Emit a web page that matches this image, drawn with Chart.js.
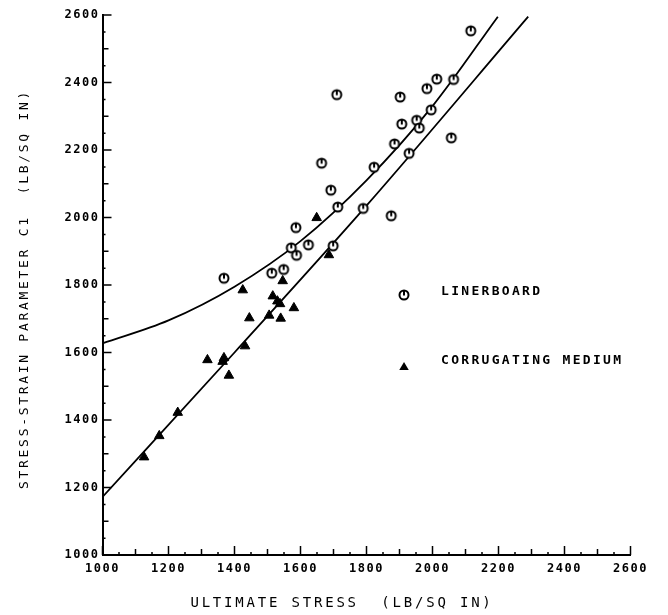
<!DOCTYPE html>
<html>
<head>
<meta charset="utf-8">
<script src="https://cdn.jsdelivr.net/npm/chart.js@4.4.0/dist/chart.umd.min.js"></script>
<style>
  html, body { margin: 0; padding: 0; background: #fff; }
</style>
</head>
<body>
<canvas id="chart" width="668" height="615"></canvas>
<script>
// dados
const linerStress = [1368, 1513, 1549, 1572, 1588, 1586, 1624, 1699, 1664, 1692, 1713, 1790, 1823, 1710,
  1875, 1885, 1902, 1907, 1929, 1952, 1960, 1996, 1983, 2013, 2064, 2057, 2116];
const linerC1 = [1820, 1835, 1846, 1910, 1888, 1970, 1919, 1916, 2161, 2081, 2031, 2027, 2149, 2364,
  2005, 2218, 2357, 2277, 2190, 2288, 2265, 2319, 2382, 2410, 2409, 2236, 2553];

const medStress = [1126, 1172, 1228, 1318, 1368, 1364, 1383, 1432, 1445, 1425, 1505, 1540, 1516, 1538,
  1530, 1580, 1546, 1649, 1686];
const medC1 = [1290, 1353, 1422, 1578, 1584, 1573, 1532, 1619, 1702, 1785, 1710, 1701, 1767, 1744,
  1752, 1732, 1812, 1999, 1889];

// curvas ajustadas (pontos lidos ao longo das linhas)
const linerFitX = [1000, 1200, 1400, 1600, 1800, 2000, 2198];
const linerFitY = [1627, 1695, 1795, 1930, 2110, 2330, 2595];
const medFitX = [1000, 1400, 1800, 2290];
const medFitY = [1172, 1600, 2035, 2595];

const xTicks = [1000, 1200, 1400, 1600, 1800, 2000, 2200, 2400, 2600];
const yTicks = [1000, 1200, 1400, 1600, 1800, 2000, 2200, 2400, 2600];

const xTitle = 'ULTIMATE STRESS  (LB/SQ IN)';
const yTitle = 'STRESS-STRAIN PARAMETER C1  (LB/SQ IN)';
const legendLabels = ['LINERBOARD', 'CORRUGATING MEDIUM'];

const FONT = 'DejaVu Sans Mono';

function toPoints(xs, ys) {
  return xs.map((v, i) => ({ x: v, y: ys[i] }));
}

// simbolo do circulo com traço
function circleMark() {
  const c = document.createElement('canvas');
  c.width = 14; c.height = 14;
  const g = c.getContext('2d');
  g.fillStyle = '#fff';
  g.strokeStyle = '#000';
  g.lineWidth = 2;
  g.beginPath();
  g.arc(7, 7, 4.5, 0, Math.PI * 2);
  g.fill();
  g.stroke();
  g.beginPath();
  g.moveTo(7, 2.5);
  g.lineTo(7, 7.5);
  g.stroke();
  return c;
}
const circleImg = circleMark();

function drawTriangle(ctx, cx, cy, r) {
  ctx.beginPath();
  ctx.moveTo(cx, cy - r);
  ctx.lineTo(cx + r * 0.95, cy + r * 0.6);
  ctx.lineTo(cx - r * 0.95, cy + r * 0.6);
  ctx.closePath();
  ctx.fill();
}

// ticks internos, legenda e titulos
const decor = {
  id: 'decor',
  beforeDraw(chart) {
    chart.ctx.letterSpacing = '1.5px';
  },
  afterDraw(chart) {
    const ctx = chart.ctx;
    const x = chart.scales.x, y = chart.scales.y;
    ctx.save();
    ctx.strokeStyle = '#000';
    ctx.lineWidth = 1.5;
    ctx.beginPath();
    for (let v = 1000; v <= 2600; v += 50) {
      const len = v % 200 === 0 ? 9 : (v % 100 === 0 ? 6 : 3);
      const px = x.getPixelForValue(v);
      ctx.moveTo(px, y.bottom);
      ctx.lineTo(px, y.bottom - len);
      const py = y.getPixelForValue(v);
      ctx.moveTo(x.left, py);
      ctx.lineTo(x.left + len, py);
    }
    ctx.stroke();

    // legenda
    ctx.drawImage(circleImg, 404 - 7, 295 - 7);
    ctx.fillStyle = '#000';
    drawTriangle(ctx, 404, 367, 5);
    ctx.font = 'bold 13px "' + FONT + '"';
    ctx.letterSpacing = '2.3px';
    ctx.textAlign = 'left';
    ctx.textBaseline = 'middle';
    ctx.fillText(legendLabels[0], 441, 292);
    ctx.fillText(legendLabels[1], 441, 361);

    // titulos dos eixos
    ctx.font = '14px "' + FONT + '"';
    ctx.letterSpacing = '2.8px';
    ctx.textAlign = 'center';
    ctx.fillText(xTitle, 342, 603);
    ctx.save();
    ctx.translate(25, 289);
    ctx.rotate(-Math.PI / 2);
    ctx.font = '13px "' + FONT + '"';
    ctx.letterSpacing = '2.7px';
    ctx.fillText(yTitle, 0, 0);
    ctx.restore();
    ctx.restore();
  }
};

const tickFont = { family: FONT, size: 12, weight: 'bold' };

new Chart(document.getElementById('chart'), {
  type: 'scatter',
  data: {
    datasets: [
      {
        label: legendLabels[0],
        data: toPoints(linerStress, linerC1),
        pointStyle: circleImg,
        pointRadius: 6
      },
      {
        label: legendLabels[1],
        data: toPoints(medStress, medC1),
        pointStyle: 'triangle',
        pointRadius: 5.5,
        backgroundColor: '#000',
        borderColor: '#000',
        borderWidth: 1
      },
      {
        type: 'line',
        data: toPoints(linerFitX, linerFitY),
        borderColor: '#000',
        borderWidth: 1.8,
        pointRadius: 0,
        cubicInterpolationMode: 'monotone',
        fill: false
      },
      {
        type: 'line',
        data: toPoints(medFitX, medFitY),
        borderColor: '#000',
        borderWidth: 1.8,
        pointRadius: 0,
        cubicInterpolationMode: 'monotone',
        fill: false
      }
    ]
  },
  options: {
    responsive: false,
    animation: false,
    layout: { padding: { top: 15, right: 37.5, left: 0, bottom: 0 } },
    plugins: {
      legend: { display: false },
      tooltip: { enabled: false }
    },
    scales: {
      x: {
        type: 'linear',
        min: 1000,
        max: 2600,
        afterBuildTicks: (s) => { s.ticks = xTicks.map(v => ({ value: v })); },
        afterFit: (s) => { s.height = 60; },
        grid: { display: false, drawTicks: false },
        border: { display: true, color: '#000', width: 2 },
        ticks: { font: tickFont, color: '#000', padding: 7, maxRotation: 0, callback: (v) => String(v) }
      },
      y: {
        type: 'linear',
        min: 1000,
        max: 2600,
        afterBuildTicks: (s) => { s.ticks = yTicks.map(v => ({ value: v })); },
        afterFit: (s) => { s.width = 102.5; },
        grid: { display: false, drawTicks: false },
        border: { display: true, color: '#000', width: 2 },
        ticks: { font: tickFont, color: '#000', padding: 3, callback: (v) => String(v) }
      }
    }
  },
  plugins: [decor]
});
</script>
</body>
</html>
